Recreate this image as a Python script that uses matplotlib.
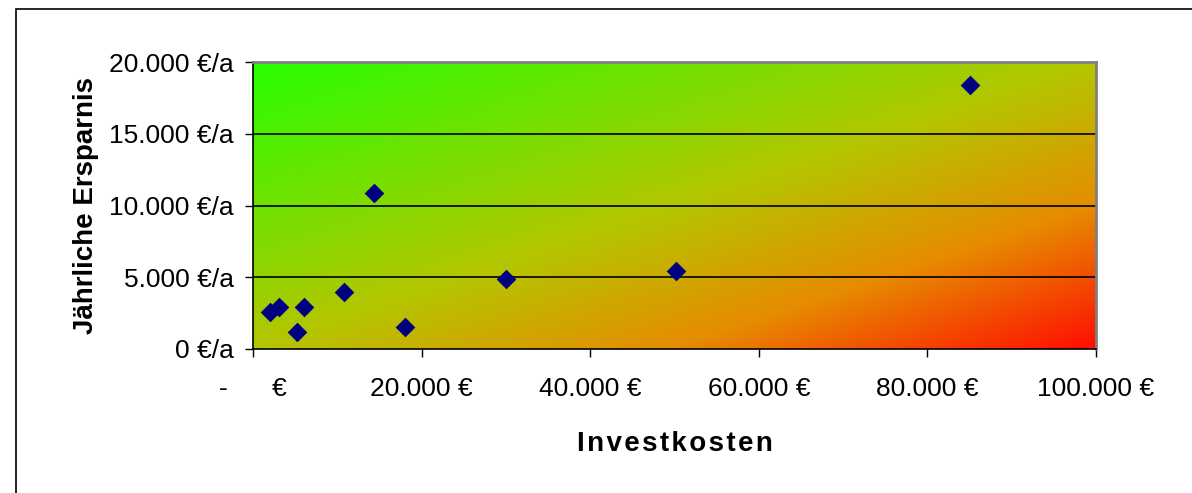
import numpy as np
import matplotlib.pyplot as plt
from matplotlib.colors import LinearSegmentedColormap
from matplotlib.patches import Rectangle

plt.rcParams['font.family'] = ['Liberation Sans', 'DejaVu Sans']

# Investkosten (EUR) and yearly savings (EUR/a)
invest = [2000, 3100, 6050, 5200, 10800, 18050, 14350, 30000, 50200, 85000]
savings = [2600, 2950, 2950, 1150, 3950, 1500, 10900, 4900, 5450, 18400]

xticks = [0, 20000, 40000, 60000, 80000, 100000]
xticklabels = ['-      €', '20.000 €', '40.000 €', '60.000 €', '80.000 €', '100.000 €']
yticks = [0, 5000, 10000, 15000, 20000]
yticklabels = ['0 €/a', '5.000 €/a', '10.000 €/a', '15.000 €/a', '20.000 €/a']

fig = plt.figure(figsize=(11.92, 4.93), dpi=100)
fig.patches.append(Rectangle((16/1192, -0.1), 1.2, 1 - 9/493 + 0.1, transform=fig.transFigure,
                             fill=False, edgecolor='black', linewidth=1.2))
ax = fig.add_axes([253/1192, (493-349)/493, (1096-253)/1192, (349-62)/493])

# diagonal gradient background: green top-left -> red bottom-right
cmap = LinearSegmentedColormap.from_list('gr', [
    (0.0, (40/255, 1.0, 0.0)),
    (0.5, (180/255, 198/255, 0.0)),
    (0.75, (230/255, 140/255, 0.0)),
    (1.0, (1.0, 15/255, 0.0))])
u, v = np.meshgrid(np.linspace(0, 1, 300), np.linspace(0, 1, 200))
t = (u + 1 - v) / 2
ax.imshow(t, cmap=cmap, extent=[0, 100000, 0, 20000], origin='lower', aspect='auto',
          zorder=0, interpolation='bilinear')

for yv in [5000, 10000, 15000]:
    ax.axhline(yv, color='black', linewidth=1.2, zorder=1)

ax.scatter(invest, savings, marker='D', s=100, color='#000080', zorder=3, linewidths=0)

ax.set_xlim(0, 100000)
ax.set_ylim(0, 20000)
ax.set_xticks(xticks)
ax.set_xticklabels(xticklabels, fontsize=19)
ax.set_yticks(yticks)
ax.set_yticklabels(yticklabels, fontsize=19)
ax.tick_params(axis='both', direction='out', length=6, width=1, colors='black', pad=8)
ax.tick_params(axis='x', pad=14)

for s in ['top', 'right']:
    ax.spines[s].set_color('#808080')
    ax.spines[s].set_linewidth(2)
for s in ['left', 'bottom']:
    ax.spines[s].set_color('black')
    ax.spines[s].set_linewidth(1.2)

ax.set_xlabel('I n v e s t k o s t e n'.replace(' ', '\u200a'), fontsize=20, fontweight='bold', labelpad=22)
ax.set_ylabel('Jährliche Ersparnis', fontsize=20, fontweight='bold', labelpad=7)

fig.savefig('out.png', dpi=100)
